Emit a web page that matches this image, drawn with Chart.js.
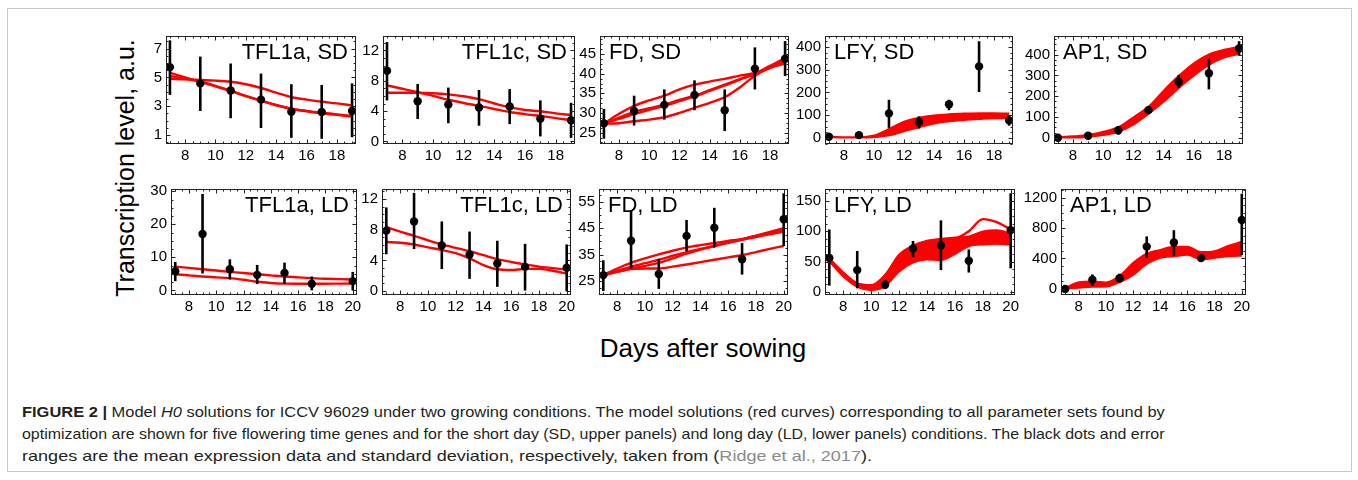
<!DOCTYPE html>
<html><head><meta charset="utf-8">
<script src="https://cdn.jsdelivr.net/npm/chart.js@4.4.1/dist/chart.umd.min.js"></script>
<style>
html,body{margin:0;padding:0;background:#fff;width:1358px;height:480px;overflow:hidden;font-family:"Liberation Sans",Arial,sans-serif;}
#frame{position:absolute;left:7px;top:8px;width:1345px;height:464px;border:1px solid #c8c8c8;box-sizing:border-box;}
canvas.panel{position:absolute;}
#ylab{position:absolute;left:125px;top:168px;font-size:25px;white-space:nowrap;transform:translate(-50%,-50%) rotate(-90deg);color:#000;line-height:25px;}
#xlab{position:absolute;left:703px;top:348px;font-size:26px;white-space:nowrap;transform:translate(-50%,-50%);color:#000;line-height:26px;}
.cap{position:absolute;left:22px;font-size:15px;line-height:22px;white-space:nowrap;color:#231f20;transform-origin:0 50%;}
.cap b{font-weight:bold;}
.gray{color:#8a8a8a;}
</style></head><body>
<div id="frame"></div>
<div id="ylab">Transcription level, a.u.</div>
<div id="xlab">Days after sowing</div>
<div class="cap" id="cap1" data-w="1143" style="top:401px"><b>FIGURE 2 |</b> Model <i>H0</i> solutions for ICCV 96029 under two growing conditions. The model solutions (red curves) corresponding to all parameter sets found by</div>
<div class="cap" id="cap2" data-w="1142" style="top:423px">optimization are shown for five flowering time genes and for the short day (SD, upper panels) and long day (LD, lower panels) conditions. The black dots and error</div>
<div class="cap" id="cap3" data-w="850" style="top:445px">ranges are the mean expression data and standard deviation, respectively, taken from (<span class="gray">Ridge et al., 2017</span>).</div>
<script>
// ---------- DATA ----------
const daysSD = [7, 9, 11, 13, 15, 17, 19];
const daysLD = [7, 9, 11, 13, 15, 17, 20];
const curveDaysSD = [7, 8, 9, 10, 11, 12, 13, 14, 15, 16, 17, 18, 19];
const curveDaysLD = [7, 8, 9, 10, 11, 12, 13, 14, 15, 16, 17, 18, 19, 20];
const xTicksSD = [8, 10, 12, 14, 16, 18];
const xTicksLD = [8, 10, 12, 14, 16, 18, 20];

// TFL1a, SD
const tfl1aSD_mean = [5.72, 4.59, 4.10, 3.46, 2.62, 2.60, 2.67];
const tfl1aSD_low  = [3.79, 2.67, 2.17, 1.49, 0.81, 0.74, 0.85];
const tfl1aSD_high = [7.58, 6.45, 5.97, 5.27, 4.53, 4.48, 4.59];
const tfl1aSD_c1 = [4.90, 4.87, 4.82, 4.78, 4.70, 4.53, 4.27, 3.95, 3.63, 3.46, 3.31, 3.20, 3.05];
const tfl1aSD_c2 = [5.33, 5.00, 4.69, 4.38, 4.05, 3.70, 3.37, 3.07, 2.81, 2.65, 2.51, 2.40, 2.28];
const tfl1aSD_c3 = [5.10, 4.92, 4.72, 4.42, 4.08, 3.72, 3.39, 3.09, 2.84, 2.68, 2.55, 2.44, 2.33];
const tfl1aSD_yTicks = [1, 3, 5, 7];

// TFL1c, SD
const tfl1cSD_mean = [9.31, 5.29, 4.88, 4.48, 4.60, 3.00, 2.80];
const tfl1cSD_low  = [5.41, 2.95, 2.40, 2.07, 2.28, 0.66, 0.47];
const tfl1cSD_high = [13.1, 7.58, 7.10, 6.78, 6.90, 5.41, 5.09];
const tfl1cSD_c1 = [6.42, 6.42, 6.42, 6.35, 6.20, 5.95, 5.57, 5.00, 4.48, 4.15, 3.97, 3.70, 3.48];
const tfl1cSD_c2 = [7.38, 6.95, 6.50, 6.00, 5.49, 5.07, 4.69, 4.28, 3.88, 3.60, 3.36, 3.07, 2.80];
const tfl1cSD_yTicks = [0, 4, 8, 12];

// FD, SD
const fdSD_mean = [27.35, 30.5, 32.06, 34.6, 30.7, 41.3, 43.8];
const fdSD_low  = [23.45, 26.8, 28.3, 30.7, 25.4, 36.0, 39.4];
const fdSD_high = [31.05, 34.4, 36.0, 38.3, 36.0, 46.7, 48.3];
const fdSD_c1 = [27.3, 29.8, 31.8, 33.2, 34.4, 36.0, 37.2, 38.0, 38.7, 39.5, 40.2, 41.5, 43.0];
const fdSD_c2 = [27.3, 28.8, 30.3, 31.2, 32.1, 33.3, 34.4, 35.8, 37.2, 38.6, 39.9, 41.7, 43.4];
const fdSD_c3 = [27.3, 28.5, 29.7, 30.8, 31.8, 33.0, 34.2, 35.6, 37.0, 38.5, 40.0, 42.0, 44.0];
const fdSD_c4 = [27.3, 27.4, 27.9, 28.3, 28.9, 30.0, 31.3, 32.6, 34.0, 36.5, 39.5, 41.5, 42.6];
const fdSD_yTicks = [25, 30, 35, 40, 45];

// LFY, SD
const lfySD_mean = [5, 12, 108, 70, 148, 315, 77];
const lfySD_low  = [0, 4, 43, 41, 122, 202, 54];
const lfySD_high = [10, 20, 168, 95, 168, 426, 100];
const lfySD_bandHigh = [8, 4, 4, 12, 40, 72, 90, 100, 105, 108, 110, 110, 108];
const lfySD_bandLow  = [2, 0, 0, 2, 10, 28, 46, 62, 72, 78, 82, 85, 85];
const lfySD_yTicks = [0, 100, 200, 300, 400];

// AP1, SD
const ap1SD_mean = [0, 10, 36, 133, 270, 311, 430];
const ap1SD_low  = [-5, 0, 15, 114, 240, 233, 396];
const ap1SD_high = [5, 20, 50, 151, 302, 381, 465];
const ap1SD_bandHigh = [4, 8, 14, 30, 52, 100, 151, 228, 299, 360, 403, 425, 440];
const ap1SD_bandLow  = [0, 0, 3, 12, 28, 62, 114, 172, 238, 298, 350, 385, 402];
const ap1SD_yTicks = [0, 100, 200, 300, 400];

// TFL1a, LD
const tfl1aLD_mean = [5.8, 17.1, 6.4, 4.7, 5.3, 2.0, 2.8];
const tfl1aLD_low  = [2.8, 5.1, 3.3, 1.9, 2.0, 0.0, 0.0];
const tfl1aLD_high = [8.6, 29.2, 9.4, 7.7, 8.4, 4.2, 5.6];
const tfl1aLD_c1 = [7.2, 6.8, 6.4, 6.0, 5.6, 5.25, 4.9, 4.55, 4.2, 3.95, 3.7, 3.5, 3.4, 3.3];
const tfl1aLD_c2 = [4.9, 4.55, 4.2, 3.95, 3.7, 3.2, 2.6, 2.25, 2.05, 2.0, 2.0, 2.0, 2.05, 2.1];
const tfl1aLD_yTicks = [0, 10, 20, 30];

// TFL1c, LD
const tfl1cLD_mean = [7.88, 9.08, 5.96, 4.76, 3.60, 3.16, 3.04];
const tfl1cLD_low  = [4.80, 5.48, 2.88, 1.60, 0.56, 0.08, 0.00];
const tfl1cLD_high = [10.9, 12.8, 9.08, 7.76, 6.56, 6.16, 6.08];
const tfl1cLD_c1 = [8.36, 7.75, 7.20, 6.62, 6.08, 5.63, 5.20, 4.68, 4.16, 3.80, 3.48, 3.20, 3.00, 2.80];
const tfl1cLD_c2 = [6.40, 6.30, 6.08, 5.70, 5.36, 4.95, 4.28, 3.40, 2.85, 2.75, 2.90, 2.90, 2.65, 2.28];
const tfl1cLD_yTicks = [0, 4, 8, 12];

// FD, LD
const fdLD_mean = [27.3, 40.3, 27.7, 42.1, 45.2, 33.3, 48.4];
const fdLD_low  = [21.3, 29.8, 22.1, 36.3, 37.7, 27.5, 38.3];
const fdLD_high = [32.9, 51.7, 33.4, 48.1, 52.7, 39.4, 58.2];
const fdLD_c1 = [27.3, 28.6, 29.6, 29.8, 29.8, 30.5, 31.3, 32.2, 33.1, 34.0, 34.8, 36.0, 37.2, 38.3];
const fdLD_c2 = [27.3, 29.8, 31.9, 33.6, 35.1, 36.5, 37.7, 38.6, 39.4, 40.2, 40.9, 42.2, 43.6, 45.0];
const fdLD_c3 = [27.3, 28.9, 30.5, 31.8, 33.1, 34.6, 36.0, 37.2, 38.3, 39.5, 40.6, 41.7, 42.7, 43.7];
const fdLD_c4 = [27.3, 28.5, 29.8, 30.8, 31.9, 33.6, 35.4, 36.9, 38.3, 39.6, 40.9, 42.1, 43.3, 44.4];
const fdLD_yTicks = [25, 35, 45, 55];

// LFY, LD
const lfyLD_mean = [56, 36, 12, 71.6, 76.6, 51.4, 102];
const lfyLD_low  = [10.5, 6, 5, 57.5, 36, 32, 39];
const lfyLD_high = [103, 67.5, 20, 84, 118, 70, 162.6];
const lfyLD_bandHigh = [56, 33, 15, 12, 29, 62, 77, 85, 88, 90, 92, 100, 102, 97];
const lfyLD_bandLow  = [50, 25, 8, 3, 9, 33, 48, 53, 52, 62, 75, 78, 79, 78];
const lfyLD_c1 = [null, null, null, null, null, null, null, null, 86, 88, 100, 120, 115, 103];
const lfyLD_yTicks = [0, 50, 100, 150];

// AP1, LD
const ap1LD_mean = [0, 122, 140, 556, 610, 405, 906];
const ap1LD_low  = [-20, 40, 92, 405, 434, 355, 445];
const ap1LD_high = [20, 190, 200, 690, 772, 445, 1250];
const ap1LD_bandHigh = [15, 90, 100, 88, 175, 345, 466, 515, 556, 556, 487, 500, 568, 622];
const ap1LD_bandLow  = [0, 12, 25, 28, 85, 180, 325, 405, 426, 445, 385, 405, 426, 434];
const ap1LD_yTicks = [0, 400, 800, 1200];

// ---------- LAYOUT ----------
const RED = '#ff0000';
const FONT = '"Liberation Sans", Arial, sans-serif';
Chart.defaults.font.family = FONT;
const AXW = 60, AXH = 26, PADT = 4, PADR = 16;

const panels = [
  {title:'TFL1a, SD', align:'right', box:[166,27,356,144], xr:[6.74,19.26], yr:[0.38,7.88], xt:xTicksSD, yt:tfl1aSD_yTicks,
   days:daysSD, mean:tfl1aSD_mean, low:tfl1aSD_low, high:tfl1aSD_high, cd:curveDaysSD, curves:[tfl1aSD_c1,tfl1aSD_c2,tfl1aSD_c3], bands:[]},
  {title:'TFL1c, SD', align:'right', box:[383,27,575,144], xr:[6.74,19.26], yr:[-0.34,13.9], xt:xTicksSD, yt:tfl1cSD_yTicks,
   days:daysSD, mean:tfl1cSD_mean, low:tfl1cSD_low, high:tfl1cSD_high, cd:curveDaysSD, curves:[tfl1cSD_c1,tfl1cSD_c2], bands:[]},
  {title:'FD, SD', align:'left', box:[600,27,789,144], xr:[6.74,19.26], yr:[22.1,49.6], xt:xTicksSD, yt:fdSD_yTicks,
   days:daysSD, mean:fdSD_mean, low:fdSD_low, high:fdSD_high, cd:curveDaysSD, curves:[fdSD_c1,fdSD_c2,fdSD_c3,fdSD_c4], bands:[]},
  {title:'LFY, SD', align:'left', box:[825,27,1013,144], xr:[6.74,19.26], yr:[-27,449], xt:xTicksSD, yt:lfySD_yTicks,
   days:daysSD, mean:lfySD_mean, low:lfySD_low, high:lfySD_high, cd:curveDaysSD, curves:[], bands:[[lfySD_bandHigh,lfySD_bandLow]]},
  {title:'AP1, SD', align:'left', box:[1054,27,1243,144], xr:[6.74,19.26], yr:[-30,490], xt:xTicksSD, yt:ap1SD_yTicks,
   days:daysSD, mean:ap1SD_mean, low:ap1SD_low, high:ap1SD_high, cd:curveDaysSD, curves:[], bands:[[ap1SD_bandHigh,ap1SD_bandLow]]},
  {title:'TFL1a, LD', align:'right', box:[171,180,357,295], xr:[6.69,20.31], yr:[-1.4,30.7], xt:xTicksLD, yt:tfl1aLD_yTicks,
   days:daysLD, mean:tfl1aLD_mean, low:tfl1aLD_low, high:tfl1aLD_high, cd:curveDaysLD, curves:[tfl1aLD_c1,tfl1aLD_c2], bands:[]},
  {title:'TFL1c, LD', align:'right', box:[382,180,571,295], xr:[6.69,20.31], yr:[-0.5,13.3], xt:xTicksLD, yt:tfl1cLD_yTicks,
   days:daysLD, mean:tfl1cLD_mean, low:tfl1cLD_low, high:tfl1cLD_high, cd:curveDaysLD, curves:[tfl1cLD_c1,tfl1cLD_c2], bands:[]},
  {title:'FD, LD', align:'left', box:[599,180,788,295], xr:[6.69,20.31], yr:[19.8,59.8], xt:xTicksLD, yt:fdLD_yTicks,
   days:daysLD, mean:fdLD_mean, low:fdLD_low, high:fdLD_high, cd:curveDaysLD, curves:[fdLD_c1,fdLD_c2,fdLD_c3,fdLD_c4], bands:[]},
  {title:'LFY, LD', align:'left', box:[825,180,1015,295], xr:[6.69,20.31], yr:[-5,169.7], xt:xTicksLD, yt:lfyLD_yTicks,
   days:daysLD, mean:lfyLD_mean, low:lfyLD_low, high:lfyLD_high, cd:curveDaysLD, curves:[lfyLD_c1], bands:[[lfyLD_bandHigh,lfyLD_bandLow]]},
  {title:'AP1, LD', align:'left', box:[1061,180,1246,295], xr:[6.69,20.31], yr:[-80,1313], xt:xTicksLD, yt:ap1LD_yTicks,
   days:daysLD, mean:ap1LD_mean, low:ap1LD_low, high:ap1LD_high, cd:curveDaysLD, curves:[], bands:[[ap1LD_bandHigh,ap1LD_bandLow]]}
];

function makeDeco(p){
  return {
    id:'deco',
    afterDatasetsDraw(chart){
      const ctx = chart.ctx, ca = chart.chartArea, xs = chart.scales.x, ys = chart.scales.y;
      ctx.save();
      // error bars
      ctx.strokeStyle = '#000'; ctx.lineWidth = 2.6; ctx.lineCap = 'butt';
      p.days.forEach((d,i)=>{
        const px = xs.getPixelForValue(d);
        ctx.beginPath();
        ctx.moveTo(px, ys.getPixelForValue(p.low[i]));
        ctx.lineTo(px, ys.getPixelForValue(p.high[i]));
        ctx.stroke();
      });
      // frame
      const L = Math.round(ca.left)+0.5, T = Math.round(ca.top)+0.5, R = Math.round(ca.right)-0.5, B = Math.round(ca.bottom)-0.5;
      ctx.strokeStyle = '#222'; ctx.lineWidth = 1;
      ctx.strokeRect(L, T, R-L, B-T);
      // inside ticks (major + minor)
      ctx.beginPath();
      const xstep = p.xt[1]-p.xt[0], ystep = p.yt[1]-p.yt[0];
      for (let v = p.xt[0]-xstep; v <= p.xt[p.xt.length-1]+xstep; v += xstep/4){
        if (v < p.xr[0] || v > p.xr[1]) continue;
        const major = Math.abs((v - p.xt[0]) / xstep - Math.round((v - p.xt[0]) / xstep)) < 1e-6;
        const len = major ? 4 : 2;
        const px = Math.round(xs.getPixelForValue(v))+0.5;
        ctx.moveTo(px, B); ctx.lineTo(px, B-len);
        ctx.moveTo(px, T); ctx.lineTo(px, T+len);
      }
      for (let v = p.yt[0]-ystep; v <= p.yt[p.yt.length-1]+ystep; v += ystep/4){
        if (v < p.yr[0] || v > p.yr[1]) continue;
        const major = Math.abs((v - p.yt[0]) / ystep - Math.round((v - p.yt[0]) / ystep)) < 1e-6;
        const len = major ? 4 : 2;
        const py = Math.round(ys.getPixelForValue(v))+0.5;
        ctx.moveTo(L, py); ctx.lineTo(L+len, py);
        ctx.moveTo(R, py); ctx.lineTo(R-len, py);
      }
      ctx.stroke();
      // title
      ctx.fillStyle = '#000';
      ctx.font = '22px ' + FONT;
      ctx.textBaseline = 'alphabetic';
      if (p.align === 'right'){ ctx.textAlign = 'right'; ctx.fillText(p.title, ca.right - 8, ca.top + 23); }
      else { ctx.textAlign = 'left'; ctx.fillText(p.title, ca.left + 9, ca.top + 23); }
      ctx.restore();
    }
  };
}

function pts(xs, ys){ return xs.map((x,i)=>({x:x, y:ys[i]})); }

panels.forEach(p=>{
  const [l,t,r,b] = p.box;
  const cv = document.createElement('canvas');
  cv.className = 'panel';
  cv.width = (r-l) + AXW + PADR;
  cv.height = PADT + (b-t) + AXH;
  cv.style.left = (l - AXW) + 'px';
  cv.style.top = (t - PADT) + 'px';
  document.body.appendChild(cv);

  const ds = [];
  ds.push({data: pts(p.days, p.mean), showLine:false, pointRadius:4.2, pointHoverRadius:4.2,
           pointBackgroundColor:'#000', pointBorderWidth:0, pointBorderColor:'#000'});
  p.bands.forEach(bd=>{
    ds.push({data: pts(p.cd, bd[0]), showLine:true, borderColor:RED, borderWidth:1.5, pointRadius:0,
             fill:false, cubicInterpolationMode:'monotone'});
    ds.push({data: pts(p.cd, bd[1]), showLine:true, borderColor:RED, borderWidth:1.5, pointRadius:0,
             fill:'-1', backgroundColor:RED, cubicInterpolationMode:'monotone'});
  });
  p.curves.forEach(c=>{
    ds.push({data: pts(p.cd, c), showLine:true, borderColor:RED, borderWidth:2.4, pointRadius:0,
             fill:false, cubicInterpolationMode:'monotone', spanGaps:false});
  });

  new Chart(cv, {
    type:'scatter',
    data:{datasets: ds},
    options:{
      responsive:false, animation:false, devicePixelRatio:1,
      layout:{padding:{left:0, right:PADR, top:PADT, bottom:0}},
      plugins:{legend:{display:false}, tooltip:{enabled:false}, title:{display:false}},
      scales:{
        x:{type:'linear', position:'bottom', min:p.xr[0], max:p.xr[1],
           grid:{display:false, drawTicks:false}, border:{display:false},
           ticks:{color:'#000', font:{size:15, family:FONT}, padding:3, maxRotation:0, autoSkip:false,
                  callback:(v)=>String(v)},
           afterBuildTicks:(s)=>{ s.ticks = p.xt.map(v=>({value:v})); },
           afterFit:(s)=>{ s.height = AXH; }},
        y:{type:'linear', position:'left', min:p.yr[0], max:p.yr[1],
           grid:{display:false, drawTicks:false}, border:{display:false},
           ticks:{color:'#000', font:{size:15, family:FONT}, padding:4, autoSkip:false,
                  callback:(v)=>String(v)},
           afterBuildTicks:(s)=>{ s.ticks = p.yt.map(v=>({value:v})); },
           afterFit:(s)=>{ s.width = AXW; }}
      }
    },
    plugins:[makeDeco(p)]
  });
});

// fit caption lines to the reference widths
document.querySelectorAll('.cap').forEach(el=>{
  const target = parseFloat(el.dataset.w);
  const w = el.scrollWidth;
  if (w > 0) el.style.transform = 'scaleX(' + (target / w) + ')';
});
</script>
</body></html>
